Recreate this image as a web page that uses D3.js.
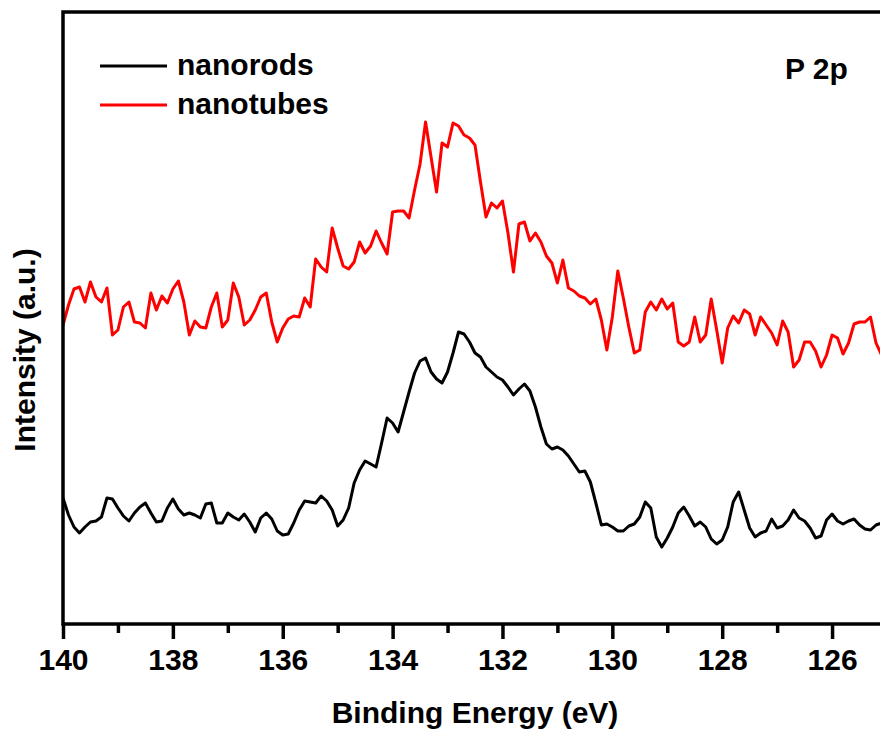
<!DOCTYPE html>
<html lang="en">
<head>
    <meta charset="UTF-8">
    <script src="https://d3js.org/d3.v7.min.js"></script>
    <title>P 2p - nanorods vs nanotubes</title>
    <style>
        body { margin: 0; background: #fff; }
        text { font-family: "Liberation Sans", Arial, sans-serif; font-weight: bold; fill: #000; }
    </style>
</head>
<body>
    <figure style="margin:0"></figure>
    <script>
        // binding energy grid (eV), 0.1 eV steps, 140.0 -> 125.1
        const energy = [
            140.0, 139.9, 139.8, 139.7, 139.6, 139.5, 139.4, 139.3, 139.2, 139.1,
            139.0, 138.9, 138.8, 138.7, 138.6, 138.5, 138.4, 138.3, 138.2, 138.1,
            138.0, 137.9, 137.8, 137.7, 137.6, 137.5, 137.4, 137.3, 137.2, 137.1,
            137.0, 136.9, 136.8, 136.7, 136.6, 136.5, 136.4, 136.3, 136.2, 136.1,
            136.0, 135.9, 135.8, 135.7, 135.6, 135.5, 135.4, 135.3, 135.2, 135.1,
            135.0, 134.9, 134.8, 134.7, 134.6, 134.5, 134.4, 134.3, 134.2, 134.1,
            134.0, 133.9, 133.8, 133.7, 133.6, 133.5, 133.4, 133.3, 133.2, 133.1,
            133.0, 132.9, 132.8, 132.7, 132.6, 132.5, 132.4, 132.3, 132.2, 132.1,
            132.0, 131.9, 131.8, 131.7, 131.6, 131.5, 131.4, 131.3, 131.2, 131.1,
            131.0, 130.9, 130.8, 130.7, 130.6, 130.5, 130.4, 130.3, 130.2, 130.1,
            130.0, 129.9, 129.8, 129.7, 129.6, 129.5, 129.4, 129.3, 129.2, 129.1,
            129.0, 128.9, 128.8, 128.7, 128.6, 128.5, 128.4, 128.3, 128.2, 128.1,
            128.0, 127.9, 127.8, 127.7, 127.6, 127.5, 127.4, 127.3, 127.2, 127.1,
            127.0, 126.9, 126.8, 126.7, 126.6, 126.5, 126.4, 126.3, 126.2, 126.1,
            126.0, 125.9, 125.8, 125.7, 125.6, 125.5, 125.4, 125.3, 125.2, 125.1
        ];

        // intensities (a.u.)
        const nanorods = [
            126, 109, 97, 91, 97, 102, 103, 107, 126, 125,
            116, 108, 103, 111, 117, 121, 111, 102, 103, 116,
            125, 115, 109, 111, 109, 106, 120, 121, 101, 101,
            111, 107, 104, 110, 102, 92, 106, 111, 105, 93,
            89, 90, 101, 114, 123, 122, 121, 128, 123, 114,
            98, 104, 116, 141, 154, 163, 160, 157, 181, 206,
            201, 192, 212, 232, 251, 263, 266, 252, 245, 241,
            252, 271, 292, 290, 282, 271, 267, 257, 252, 247,
            244, 237, 229, 235, 240, 233, 217, 197, 180, 175,
            177, 174, 168, 160, 152, 153, 142, 121, 99, 100,
            97, 93, 93, 98, 100, 107, 122, 116, 87, 77,
            86, 97, 111, 117, 108, 98, 102, 97, 85, 80,
            84, 97, 122, 132, 114, 96, 87, 91, 93, 105,
            96, 98, 104, 114, 106, 103, 96, 86, 88, 104,
            110, 103, 100, 103, 105, 99, 95, 94, 99, 101
        ];

        const nanotubes = [
            299, 319, 335, 337, 322, 342, 327, 322, 336, 289,
            294, 317, 322, 302, 301, 296, 331, 314, 328, 321,
            335, 343, 322, 289, 303, 297, 296, 317, 331, 297,
            304, 341, 327, 299, 304, 314, 327, 331, 302, 282,
            296, 305, 308, 307, 326, 317, 365, 357, 352, 396,
            376, 358, 355, 362, 382, 371, 378, 393, 381, 370,
            412, 413, 413, 406, 434, 460, 502, 467, 432, 481,
            477, 501, 498, 489, 486, 479, 442, 407, 421, 416,
            423, 391, 352, 400, 402, 383, 391, 382, 368, 361,
            341, 364, 336, 333, 328, 326, 320, 325, 304, 274,
            307, 353, 326, 297, 271, 274, 312, 322, 314, 325,
            315, 321, 282, 278, 282, 307, 282, 289, 325, 294,
            261, 296, 308, 301, 314, 310, 289, 307, 299, 291,
            279, 303, 292, 257, 264, 282, 282, 273, 257, 269,
            289, 286, 270, 281, 300, 302, 302, 307, 281, 269
        ];

        const seriesNames = ["nanorods", "nanotubes"];
        const seriesColors = ["#000000", "#ff0000"];
        const xTicks = [140, 138, 136, 134, 132, 130, 128, 126];
        const xMinorTicks = [139, 137, 135, 133, 131, 129, 127, 125];

        const w = 880;
        const h = 733;
        const mLeft = 63, mRight = 887, mTop = 12, mBottom = 624;

        const xScale = d3.scaleLinear()
            .domain([140, 125])
            .range([mLeft, mRight]);

        const yScale = d3.scaleLinear()
            .domain([0, 612])
            .range([mBottom, mTop]);

        const svg = d3.select("figure")
            .append("svg")
            .attr("width", w)
            .attr("height", h)
            .style("display", "block");

        // clip so lines stay inside the frame
        svg.append("clipPath").attr("id", "plotclip")
            .append("rect")
            .attr("x", mLeft).attr("y", mTop)
            .attr("width", mRight - mLeft).attr("height", mBottom - mTop);

        const line = d3.line()
            .x((d, i) => xScale(energy[i]))
            .y(d => yScale(d));

        [nanorods, nanotubes].forEach((s, i) => {
            svg.append("path")
                .datum(s)
                .attr("clip-path", "url(#plotclip)")
                .attr("fill", "none")
                .attr("stroke", seriesColors[i])
                .attr("stroke-width", 3)
                .attr("stroke-linejoin", "round")
                .attr("d", line);
        });

        // frame
        svg.append("rect")
            .attr("x", mLeft).attr("y", mTop)
            .attr("width", mRight - mLeft).attr("height", mBottom - mTop)
            .attr("fill", "none")
            .attr("stroke", "#000")
            .attr("stroke-width", 3.5);

        // x axis - major ticks with labels, minor ticks in between
        const xAxis = d3.axisBottom(xScale)
            .tickValues(xTicks)
            .tickSize(15)
            .tickPadding(10)
            .tickFormat(d3.format("d"));

        const gx = svg.append("g")
            .attr("transform", "translate(0," + mBottom + ")")
            .call(xAxis);
        gx.select(".domain").remove();
        gx.selectAll(".tick line").attr("stroke-width", 3.5);
        gx.selectAll(".tick text")
            .attr("font-size", 30)
            .attr("font-family", "Liberation Sans, Arial, sans-serif")
            .attr("font-weight", "bold");

        const minorAxis = d3.axisBottom(xScale)
            .tickValues(xMinorTicks)
            .tickSize(9)
            .tickFormat("");
        const gm = svg.append("g")
            .attr("transform", "translate(0," + mBottom + ")")
            .call(minorAxis);
        gm.select(".domain").remove();
        gm.selectAll(".tick line").attr("stroke-width", 3.5);

        // axis titles
        svg.append("text")
            .attr("x", (mLeft + mRight) / 2)
            .attr("y", 723)
            .attr("text-anchor", "middle")
            .attr("font-size", 30)
            .text("Binding Energy (eV)");

        svg.append("text")
            .attr("transform", "translate(35,350) rotate(-90)")
            .attr("text-anchor", "middle")
            .attr("font-size", 30)
            .text("Intensity (a.u.)");

        // P 2p label
        svg.append("text")
            .attr("x", 785)
            .attr("y", 79)
            .attr("font-size", 30)
            .text("P 2p");

        // legend
        const legend = svg.append("g").attr("id", "legend");
        seriesNames.forEach((name, i) => {
            const ly = 66 + i * 39;
            legend.append("line")
                .attr("x1", 100).attr("x2", 167)
                .attr("y1", ly).attr("y2", ly)
                .attr("stroke", seriesColors[i])
                .attr("stroke-width", 3);
            legend.append("text")
                .attr("x", 177)
                .attr("y", ly + 9)
                .attr("font-size", 30)
                .text(name);
        });
    </script>
</body>
</html>
